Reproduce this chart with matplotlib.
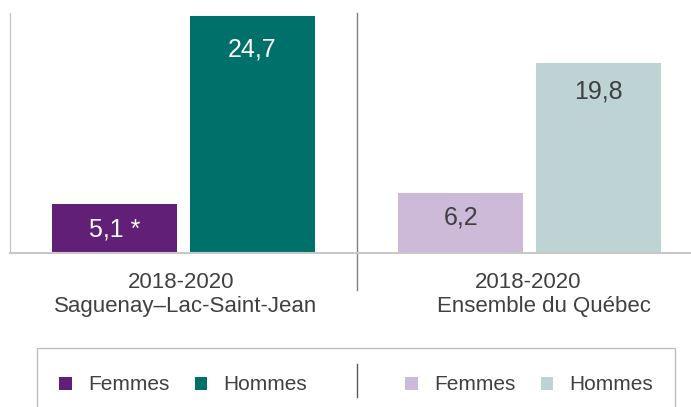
import matplotlib.pyplot as plt
from matplotlib.patches import Rectangle
from matplotlib.lines import Line2D

plt.rcParams['font.family'] = ['Liberation Sans', 'DejaVu Sans']

# ---- DATA ----
periods = ["2018-2020", "2018-2020"]
regions = ["Saguenay–Lac-Saint-Jean", "Ensemble du Québec"]
femmes = [5.1, 6.2]
hommes = [24.7, 19.8]
femmes_labels = ["5,1 *", "6,2"]
hommes_labels = ["24,7", "19,8"]
legend_labels = ["Femmes", "Hommes"]

# ---- STYLE ----
col_f = ["#621F78", "#CDB9D8"]
col_h = ["#00716A", "#BDD3D4"]
txt_col = ["white", "#404040"]
grey = "#404040"
pad_f = [-25, -24]   # label offsets (pixels) below bar top
pad_h = [-34, -29]

fig = plt.figure(figsize=(6.91, 4.07), dpi=100)
ax = fig.add_axes([10 / 691, (407 - 253) / 407, 681 / 691, 240 / 407])

w = 0.361
off = 0.199
x = [0, 1]
bars = []
for i in x:
    bf = ax.bar(i - off, femmes[i], width=w, color=col_f[i])
    bh = ax.bar(i + off, hommes[i], width=w, color=col_h[i])
    bars.append((bf, bh))
    for b, lab, p in ((bf, femmes_labels[i], pad_f[i]), (bh, hommes_labels[i], pad_h[i])):
        r = b[0]
        ax.annotate(lab, (r.get_x() + r.get_width() / 2, r.get_height()),
                    xytext=(0, p), textcoords="offset pixels",
                    ha="center", va="center", fontsize=18, color=txt_col[i])

ax.set_xlim(-0.5, 1.465)
ax.set_ylim(0, 25)
ax.set_xticks([])
ax.set_yticks([])
for s in ["top", "right"]:
    ax.spines[s].set_visible(False)
ax.spines["left"].set_color("#BFBFBF")
ax.spines["bottom"].set_color("#C8C8C8")
ax.spines["bottom"].set_linewidth(1.5)

# separator between the two groups
ax.axvline(0.5, ymin=-0.155, ymax=1, color="#7F7F7F", lw=1, clip_on=False)

# category labels
region_dx = [0.007, 0.042]
for i in x:
    ax.text(i - 0.006, -3.65, periods[i], ha="center", va="baseline",
            fontsize=16, color=grey, clip_on=False)
    ax.text(i + region_dx[i], -6.15, regions[i], ha="center", va="baseline",
            fontsize=16, color=grey, clip_on=False)

# ---- LEGEND BOX ----
fig.patches.append(Rectangle((37 / 691, -0.05), 638 / 691, (407 - 348) / 407 + 0.05,
                             transform=fig.transFigure, fill=False,
                             edgecolor="#BFBFBF", lw=1))
fig.lines.append(Line2D([357 / 691, 357 / 691], [(407 - 397) / 407, (407 - 364) / 407],
                        transform=fig.transFigure, color="#595959", lw=1))

leg_kw = dict(ncol=2, frameon=False, loc="center left", fontsize=15,
              handlelength=0.6, handleheight=0.6, handletextpad=0.8,
              columnspacing=1.2, borderpad=0, borderaxespad=0,
              labelcolor=grey)
leg1 = fig.legend([bars[0][0], bars[0][1]], legend_labels,
                  bbox_to_anchor=(59 / 691, (407 - 385) / 407), **leg_kw)
leg2 = fig.legend([bars[1][0], bars[1][1]], legend_labels,
                  bbox_to_anchor=(405 / 691, (407 - 385) / 407), **leg_kw)

fig.savefig("out.png", dpi=100)
